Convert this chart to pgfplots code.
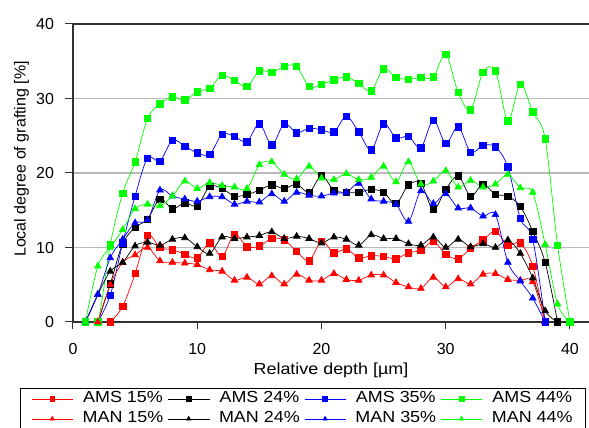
\documentclass[border=0pt]{standalone}
\usepackage{fontspec}
\setmainfont{Liberation Sans}
\newfontfamily\widesans{Liberation Sans}[FakeStretch=1.12]
\usepackage{pgfplots}
\pgfplotsset{compat=1.18}

\definecolor{cRed}{RGB}{255,0,0}
\definecolor{cBlack}{RGB}{0,0,0}
\definecolor{cBlue}{RGB}{0,0,255}
\definecolor{cGreen}{RGB}{0,255,0}
\definecolor{gridgray}{RGB}{185,185,185}
\definecolor{axisgray}{RGB}{50,50,50}

\begin{document}
\fontsize{16}{19}\selectfont
\begin{tikzpicture}
\begin{axis}[
  at={(0,0)}, anchor=south west,
  scale only axis,
  width=516pt, height=298pt,
  xmin=0, xmax=41.53, ymin=0, ymax=40,
  axis x line*=box, axis y line*=left,
  xtick pos=left, ytick pos=left,
  xtick={0,10,20,30,40}, ytick={0,10,20,30,40},
  tick align=outside, major tick length=7.5pt,
  tick style={axisgray, line width=1pt},
  axis line style={axisgray, line width=1.3pt},
  ymajorgrids,
  grid style={gridgray, line width=1.3pt},
  /pgf/number format/assume math mode=true,
  yticklabel style={xshift=-6pt},
  xticklabel style={yshift=-8.5pt},
  xlabel={\widesans Relative depth [µm]},
  ylabel={Local degree of grafting [\%]},
  x label style={at={(axis description cs:0.5,-0.118)}, anchor=north},
  y label style={at={(axis description cs:-0.1,0.547)}, anchor=center},
  every axis plot/.append style={line width=0.7pt, smooth, tension=0.55, mark options={solid}},
  legend columns=4,
  legend style={
    at={(axis description cs:-0.1027,-0.2215)}, anchor=north west,
    draw=black, line width=0.8pt,
    inner xsep=11pt, inner ysep=1pt,
    row sep=1pt,
    font=\widesans,
    nodes={inner sep=2pt, text height=11.5pt, text depth=3.5pt},
    /tikz/every odd column/.append style={column sep=7.5pt},
    /tikz/every even column/.append style={column sep=2.5pt},
  },
  legend image code/.code={%
    \draw[mark repeat=2, mark phase=2, #1, line width=0.75pt, mark size=2.4pt]
      plot coordinates {(0pt,0pt) (20.5pt,0pt) (41pt,0pt)};},
]

% AMS 15 %
\addplot[color=cRed, mark=square*, mark size=3.2pt] coordinates {
(3,0)(4,2.1)(5,6.5)(6,11.6)(7,10.0)(8,9.7)(9,9.1)(10,8.6)(11,10.6)(12,8.8)
(13,11.8)(14,10.1)(15,10.2)(16,11.2)(17,11.0)(18,9.5)(19,8.2)(20,10.8)(21,9.3)
(22,9.8)(23,8.6)(24,8.9)(25,8.8)(26,8.5)(27,9.3)(28,9.6)(29,10.8)(30,9.1)
(31,8.5)(32,9.9)(33,11.0)(34,12.2)(35,10.3)(36,10.6)(37,7.5)(38,0)};
\addlegendentry{AMS 15\%}

% AMS 24 %
\addplot[color=cBlack, mark=square*, mark size=3.2pt] coordinates {
(2,0)(3,5.1)(4,10.5)(5,12.7)(6,13.8)(7,16.5)(8,15.2)(9,16.0)(10,15.6)(11,18.2)
(12,17.9)(13,16.9)(14,17.1)(15,17.7)(16,18.4)(17,17.9)(18,18.5)(19,17.4)(20,19.6)
(21,17.7)(22,17.4)(23,17.4)(24,17.8)(25,17.4)(26,15.9)(27,18.4)(28,18.6)(29,15.1)
(30,17.8)(31,19.6)(32,16.9)(33,18.5)(34,17.1)(35,16.9)(36,15.5)(37,12.2)(38,8.0)(39,0)};
\addlegendentry{AMS 24\%}

% AMS 35 %
\addplot[color=cBlue, mark=square*, mark size=3.2pt] coordinates {
(2,0)(3,3.6)(4,10.6)(5,16.9)(6,22.0)(7,21.6)(8,24.4)(9,23.6)(10,22.7)(11,22.5)
(12,25.2)(13,24.9)(14,24.2)(15,26.6)(16,23.8)(17,26.6)(18,25.4)(19,26.0)(20,25.8)
(21,25.5)(22,27.6)(23,25.5)(24,23.1)(25,26.6)(26,24.7)(27,24.9)(28,23.4)(29,27.1)
(30,24.0)(31,26.2)(32,22.8)(33,23.7)(34,23.5)(35,20.8)(36,13.9)(37,11.1)(38,0)};
\addlegendentry{AMS 35\%}

% AMS 44 %
\addplot[color=cGreen, mark=square*, mark size=3.2pt] coordinates {
(1,0)(2,0)(3,10.4)(4,17.3)(5,21.5)(6,27.3)(7,29.3)(8,30.2)(9,29.8)(10,30.9)
(11,31.4)(12,33.1)(13,32.4)(14,31.6)(15,33.7)(16,33.5)(17,34.3)(18,34.3)(19,31.6)
(20,31.9)(21,32.5)(22,32.9)(23,32.0)(24,31.0)(25,34.0)(26,32.8)(27,32.6)(28,32.8)
(29,32.9)(30,35.9)(31,30.8)(32,28.5)(33,33.5)(34,33.7)(35,27.0)(36,31.9)(37,28.2)
(38,24.6)(39,10.3)(40,0)};
\addlegendentry{AMS 44\%}

% MAN 15 %
\addplot[color=cRed, mark=triangle*, mark size=3.8pt] coordinates {
(2,0)(3,5.0)(4,8.0)(5,9.0)(6,10.0)(7,8.2)(8,8.0)(9,7.9)(10,7.7)(11,7.0)
(12,6.8)(13,5.6)(14,6.0)(15,5.1)(16,6.2)(17,5.1)(18,6.4)(19,5.6)(20,5.6)
(21,6.5)(22,5.7)(23,5.6)(24,6.3)(25,6.3)(26,5.3)(27,4.7)(28,4.5)(29,6.0)
(30,4.7)(31,5.8)(32,5.1)(33,6.4)(34,6.5)(35,5.7)(36,5.6)(37,5.4)(38,0)};
\addlegendentry{MAN 15\%}

% MAN 24 %
\addplot[color=cBlack, mark=triangle*, mark size=3.8pt] coordinates {
(1,0)(2,3.7)(3,6.8)(4,8.0)(5,10.2)(6,10.7)(7,10.3)(8,11.1)(9,11.3)(10,10.1)
(11,9.2)(12,11.4)(13,11.2)(14,11.4)(15,11.6)(16,12.1)(17,11.2)(18,11.5)(19,11.2)
(20,10.6)(21,11.4)(22,11.1)(23,10.3)(24,11.7)(25,11.2)(26,11.2)(27,10.5)(28,10.3)
(29,11.4)(30,10.0)(31,11.1)(32,10.1)(33,10.5)(34,10.0)(35,11.0)(36,9.2)(37,5.9)
(38,1.5)(39,0)};
\addlegendentry{MAN 24\%}

% MAN 35 %
\addplot[color=cBlue, mark=triangle*, mark size=3.8pt] coordinates {
(1,0)(2,3.7)(3,8.6)(4,11.1)(5,13.3)(6,13.7)(7,17.7)(8,16.9)(9,16.5)(10,16.2)
(11,16.8)(12,16.8)(13,15.8)(14,16.2)(15,16.1)(16,17.2)(17,16.2)(18,17.4)(19,17.0)
(20,16.9)(21,17.3)(22,17.4)(23,18.6)(24,16.5)(25,16.2)(26,15.8)(27,13.5)(28,17.6)
(29,15.9)(30,17.2)(31,15.3)(32,15.3)(33,14.2)(34,14.4)(35,8.0)(36,5.5)(37,3.2)(38,0)};
\addlegendentry{MAN 35\%}

% MAN 44 %
\addplot[color=cGreen, mark=triangle*, mark size=3.8pt] coordinates {
(1,0)(2,7.5)(3,10.0)(4,12.4)(5,15.2)(6,15.8)(7,15.6)(8,16.9)(9,18.9)(10,17.9)
(11,18.7)(12,18.3)(13,18.1)(14,17.9)(15,21.1)(16,21.5)(17,19.8)(18,19.2)(19,20.9)
(20,19.3)(21,19.1)(22,19.9)(23,19.1)(24,19.4)(25,20.9)(26,18.8)(27,21.5)(28,18.5)
(29,18.9)(30,20.3)(31,18.1)(32,19.0)(33,18.1)(34,18.5)(35,19.8)(36,18.0)(37,17.4)
(38,10.4)(39,2.4)(40,0)};
\addlegendentry{MAN 44\%}

\end{axis}
\pgfresetboundingbox
\useasboundingbox (-73pt,-106pt) rectangle (516pt,322pt);
\end{tikzpicture}
\end{document}
